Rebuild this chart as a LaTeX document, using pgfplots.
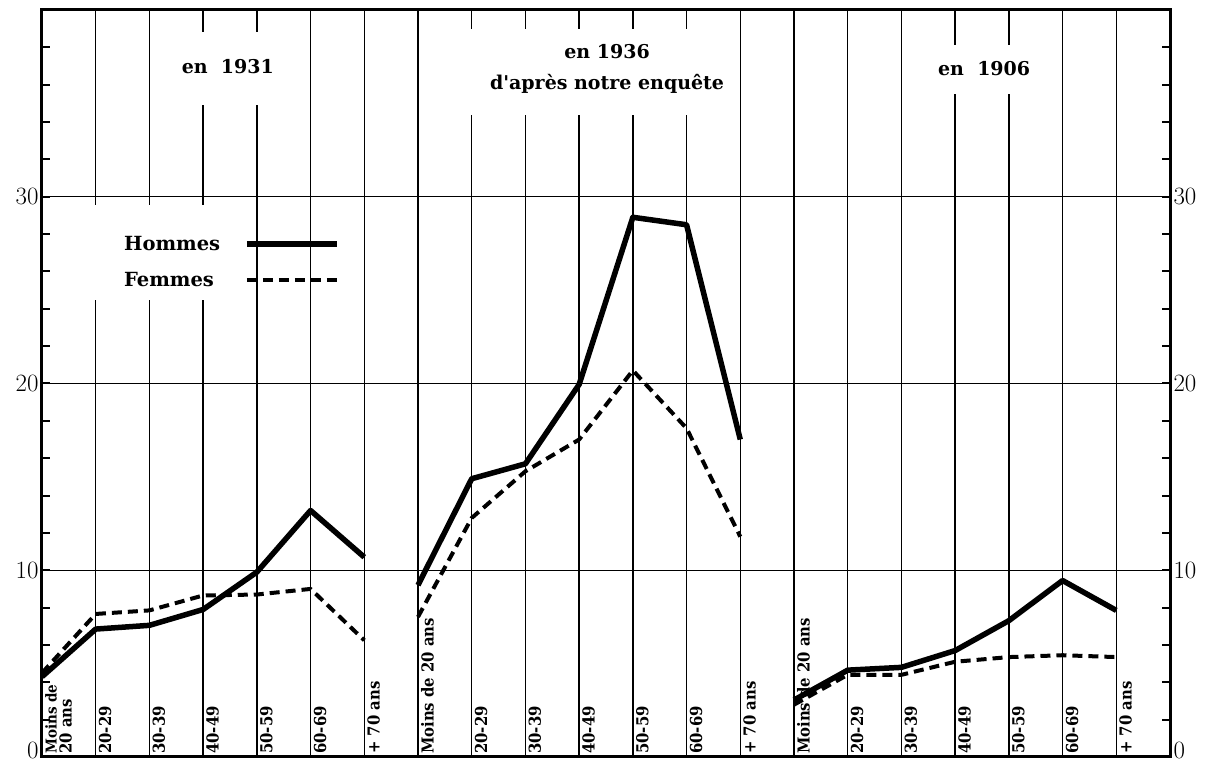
\documentclass[border=0pt]{standalone}
\usepackage{fontspec}
\usepackage{pgfplots}
\pgfplotsset{compat=1.18}
\newfontfamily\clar{DejaVu Serif}
\newfontfamily\lab{DejaVu Serif Condensed}
\begin{document}
\begin{tikzpicture}
\begin{axis}[
  at={(0,0)}, anchor=south west,
  scale only axis, width=1128pt, height=747pt,
  xmin=0, xmax=21, ymin=0, ymax=40,
  axis line style={line width=3pt},
  xtick={0,...,20},
  xticklabels={{\fontsize{15}{15}\selectfont Moins de\\20 ans},20-29,30-39,40-49,50-59,60-69,+ 70 ans,Moins de 20 ans,20-29,30-39,40-49,50-59,60-69,+ 70 ans,Moins de 20 ans,20-29,30-39,40-49,50-59,60-69,+ 70 ans},
  xticklabel style={rotate=90, anchor=north west, font=\lab\bfseries\fontsize{16.5}{15}\selectfont, align=left, inner sep=3pt},
  xtick style={draw=none},
  extra x ticks={7,14}, extra x tick labels={},
  extra x tick style={grid style={line width=3pt, black}},
  ytick={0,10,20,30},
  ytick pos=both, yticklabel pos=left,
  yticklabel style={font=\fontsize{25}{25}\selectfont, yshift={ifthenelse(\ticknum==0,7,0)}},
  minor ytick={2,4,...,38},
  minor tick length=8pt, major tick length=0pt,
  minor tick style={line width=2pt, black},
  grid=major,
  major grid style={line width=1.4pt, black},
  unbounded coords=jump,
  legend plot pos=right,
  legend cell align=left,
  legend image code/.code={\draw[#1] (0pt,0pt) -- (90pt,0pt);},
  legend style={at={(axis cs:1.45,28.05)}, anchor=north west, draw=none, fill=none,
    font=\clar\bfseries\fontsize{19.5}{19.5}\selectfont, row sep=18pt, column sep=23pt,
    nodes={inner sep=1pt}},
]
% white boxes interrupting the grid behind titles and legend
\fill[white] (axis cs:0.25,24.47) rectangle (axis cs:3.6,29.56);
\fill[white] (axis cs:2.38,34.91) rectangle (axis cs:4.62,38.82);
\fill[white] (axis cs:7.88,34.38) rectangle (axis cs:12.90,38.98);
\fill[white] (axis cs:16.63,35.50) rectangle (axis cs:18.58,38.13);

\addplot[black, line width=5.5pt, line join=round] coordinates {
 (0,4.3) (1,6.85) (2,7.05) (3,7.9) (4,9.9) (5,13.2) (6,10.7)
 (6.5,nan)
 (7,9.2) (8,14.9) (9,15.7) (10,19.95) (11,28.9) (12,28.5) (13,17.0)
 (13.5,nan)
 (14,3.05) (15,4.65) (16,4.8) (17,5.7) (18,7.3) (19,9.45) (20,7.85)
};
\addlegendentry{Hommes}
\addplot[black, line width=4pt, dash pattern=on 10pt off 6pt, line join=round] coordinates {
 (0,4.5) (1,7.66) (2,7.85) (3,8.65) (4,8.7) (5,9.0) (6,6.25)
 (6.5,nan)
 (7,7.5) (8,12.8) (9,15.3) (10,17.0) (11,20.7) (12,17.6) (13,11.8)
 (13.5,nan)
 (14,2.8) (15,4.4) (16,4.4) (17,5.1) (18,5.35) (19,5.45) (20,5.35)
};
\addlegendentry{Femmes}

\node[font=\clar\bfseries\fontsize{19}{19}\selectfont] at (axis cs:3.46,36.95) {en\ \ 1931};
\node[font=\clar\bfseries\fontsize{19}{31}\selectfont, align=center] at (axis cs:10.52,36.87) {en 1936\\d'après\ notre\ enquête};
\node[font=\clar\bfseries\fontsize{19}{19}\selectfont] at (axis cs:17.54,36.84) {en\ \ 1906};
\end{axis}
\begin{axis}[
  at={(0,0)}, anchor=south west,
  scale only axis, width=1128pt, height=747pt,
  xmin=0, xmax=21, ymin=0, ymax=40,
  axis x line=none, axis y line*=right,
  axis line style={draw=none},
  ytick={0,10,20,30}, major tick length=0pt,
  yticklabel style={font=\fontsize{25}{25}\selectfont, yshift={ifthenelse(\ticknum==0,7,0)}},
]
\end{axis}
\pgfresetboundingbox
\path[use as bounding box] (-42pt,-8pt) rectangle (1165pt,757pt);
\end{tikzpicture}
\end{document}
